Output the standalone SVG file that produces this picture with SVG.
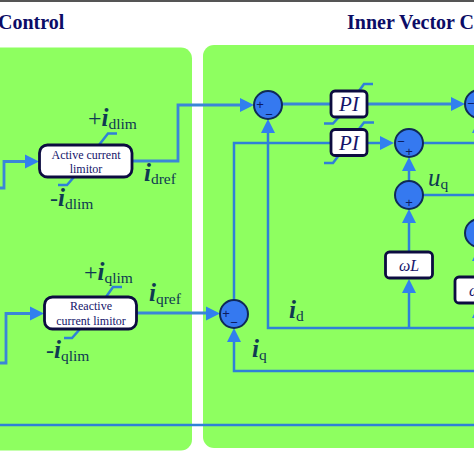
<svg xmlns="http://www.w3.org/2000/svg" width="474" height="474" viewBox="0 0 474 474">
<style>
.t{font-family:"Liberation Serif",serif;font-weight:700;font-size:20px;fill:#0c0c66}
.m{font-family:"Liberation Serif",serif;fill:#0f3a52}
.mi{font-style:italic;font-size:25px;font-weight:700}
.mp{font-size:24px}
.ms{font-size:15.500px}
.w{fill:none;stroke:#3a86d8;stroke-width:2.800}
.l{fill:none;stroke:#2f80d8;stroke-width:2.500}
.a{fill:#3180ee}
.b{fill:#fff;stroke:#0c0c40;stroke-width:2.800}
.c{fill:#3579f0;stroke:#0f2a58;stroke-width:2}
.s{font-family:"Liberation Sans",sans-serif;font-size:13px;fill:#0c1c60;text-anchor:middle}
.bt{font-family:"Liberation Serif",serif;font-size:12px;fill:#14146a;text-anchor:middle}
.pi{font-family:"Liberation Serif",serif;font-style:italic;font-size:21px;fill:#14146a;text-anchor:middle}
</style>
<defs>
<polygon id="ar" class="a" points="0,0 -14,-7 -14,7"/>
<polygon id="au" class="a" points="0,0 -7,14 7,14"/>
</defs>
<rect width="474" height="474" fill="#fff"/>
<rect width="474" height="2" fill="#555"/>
<text class="t" x="-2" y="29">Control</text>
<text class="t" x="347" y="29">Inner Vector C</text>
<rect x="-12" y="47.500" width="204" height="403" rx="11" fill="#8eff60"/>
<rect x="203" y="45" width="290" height="403" rx="11" fill="#8eff60"/>
<g id="connectors">
<path class="w" d="M0 188H4V161.500H30"/>
<path class="w" d="M0 363H6V313.500H34"/>
<path class="w" d="M132 161H178V105H244"/>
<path class="w" d="M137 313H212"/>
<path class="w" d="M282 104H455"/>
<path class="l" d="M234 300V143H385"/>
<path class="l" d="M268 130V328H474"/>
<path class="l" d="M234 340V371H474"/>
<path class="l" d="M0 425H474"/>
<path class="l" d="M409 328V290"/>
<path class="l" d="M409 252V220"/>
<path class="l" d="M409 181V168"/>
<path class="l" d="M423 143H474"/>
<path class="l" d="M423 195H474"/>
<path class="l" d="M479 128V160M479 258V277M479 303V328"/>
<path class="l" d="M359 91L364 84H373M339 117L333 123.500H324M359 129L364 122.500H374M339 155L333 163H324"/>
<path class="l" d="M99 145L108 133.500H117M74 177L67 185H58M106 297L113 287H122M80 329L72 338H64"/>
<use href="#ar" x="39" y="161.500"/>
<use href="#ar" x="44" y="313.500"/>
<use href="#ar" x="254" y="105"/>
<use href="#ar" x="220" y="313.500"/>
<use href="#ar" x="394" y="143"/>
<use href="#ar" x="465" y="104"/>
<use href="#au" x="268" y="119"/>
<use href="#au" x="234" y="328"/>
<use href="#au" x="409" y="157"/>
<use href="#au" x="409" y="209"/>
<use href="#au" x="409" y="279"/>
<use href="#au" x="479" y="119"/>
<use href="#au" x="479" y="247"/>
<use href="#au" x="479" y="304"/>
</g>
<g id="limiter-d"><rect class="b" x="39.500" y="145" width="92.500" height="32" rx="8"/><text class="bt" x="86" y="159">Active current</text><text class="bt" x="86" y="173">limitor</text></g>
<g id="limiter-q"><rect class="b" x="44.500" y="297" width="92" height="32" rx="8"/><text class="bt" x="91" y="310">Reactive</text><text class="bt" x="91" y="325">current limitor</text></g>
<g id="pi-1"><rect class="b" x="331" y="91" width="36" height="26" rx="4"/><text class="pi" x="349" y="111">PI</text></g>
<g id="pi-2"><rect class="b" x="331" y="129.500" width="36" height="26" rx="4"/><text class="pi" x="349" y="150">PI</text></g>
<g id="omega-l-1"><rect class="b" x="385.500" y="252" width="47" height="26" rx="4"/><text class="pi" x="409" y="271" style="font-size:16px">ωL</text></g>
<g id="omega-l-2"><rect class="b" x="455" y="277" width="47" height="26" rx="4"/><text class="pi" x="479" y="296" style="font-size:16px">ωL</text></g>
<g id="sum-1"><circle class="c" cx="268" cy="105" r="14"/><text class="s" x="260" y="109">+</text><text class="s" x="269" y="119">−</text></g>
<g id="sum-2"><circle class="c" cx="234" cy="314" r="14"/><text class="s" x="226" y="318">+</text><text class="s" x="234" y="327">−</text></g>
<g id="sum-3"><circle class="c" cx="409" cy="143" r="14"/><text class="s" x="401" y="146">−</text><text class="s" x="409" y="156">+</text></g>
<g id="sum-4"><circle class="c" cx="409" cy="195" r="14"/><text class="s" x="409" y="207">+</text></g>
<g id="sum-5"><circle class="c" cx="479" cy="104" r="14"/><text class="s" x="471" y="108">−</text></g>
<g id="sum-6"><circle class="c" cx="479" cy="233" r="14"/></g>
<g id="labels">
<text class="m" x="88" y="126"><tspan class="mp">+</tspan><tspan class="mi">i</tspan><tspan class="ms" dy="3">dlim</tspan></text>
<text class="m" x="50" y="206"><tspan class="mp">-</tspan><tspan class="mi">i</tspan><tspan class="ms" dy="3">dlim</tspan></text>
<text class="m" x="144" y="181"><tspan class="mi">i</tspan><tspan class="ms" dy="3">dref</tspan></text>
<text class="m" x="84" y="280"><tspan class="mp">+</tspan><tspan class="mi">i</tspan><tspan class="ms" dy="3">qlim</tspan></text>
<text class="m" x="46" y="358"><tspan class="mp">-</tspan><tspan class="mi">i</tspan><tspan class="ms" dy="3">qlim</tspan></text>
<text class="m" x="149" y="301"><tspan class="mi">i</tspan><tspan class="ms" dy="3">qref</tspan></text>
<text class="m" x="289" y="318"><tspan class="mi">i</tspan><tspan class="ms" dy="3">d</tspan></text>
<text class="m" x="252" y="357"><tspan class="mi">i</tspan><tspan class="ms" dy="3">q</tspan></text>
<text class="m" x="428" y="186"><tspan class="mi" style="font-weight:400">u</tspan><tspan class="ms" dy="3">q</tspan></text>
</g>
</svg>
